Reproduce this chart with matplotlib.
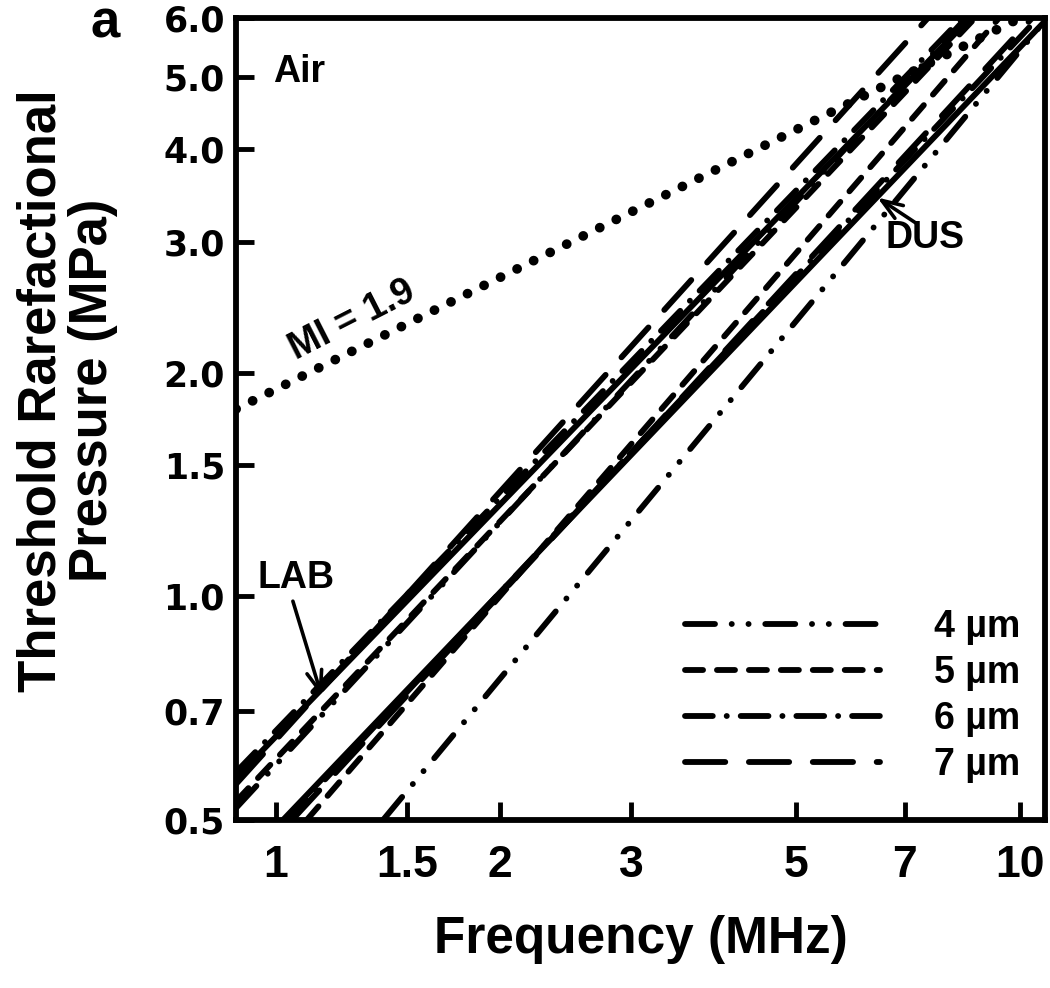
import matplotlib
matplotlib.use("Agg")
import matplotlib.pyplot as plt
from matplotlib.ticker import FixedLocator, FixedFormatter, NullLocator

plt.rcParams["lines.scale_dashes"] = False
plt.rcParams["font.family"] = ["Liberation Sans", "DejaVu Sans"]
plt.rcParams["font.weight"] = "bold"

# threshold lines as (frequency MHz, pressure MPa) end points
f_mi = [0.884, 10.0]
p_mi = [1.786, 6.0]

f_lab_solid = [0.884, 8.57]
p_lab_solid = [0.570, 6.0]
f_lab_4 = [0.884, 8.46]
p_lab_4 = [0.519, 6.0]
f_lab_5 = [0.884, 8.70]
p_lab_5 = [0.530, 6.0]
f_lab_6 = [0.884, 8.36]
p_lab_6 = [0.580, 6.0]
f_lab_7 = [0.884, 7.52]
p_lab_7 = [0.559, 6.0]

f_dus_solid = [1.022, 10.9]
p_dus_solid = [0.5, 6.0]
f_dus_4 = [1.393, 10.87]
p_dus_4 = [0.5, 6.0]
f_dus_5 = [1.10, 9.37]
p_dus_5 = [0.5, 6.0]
f_dus_6 = [1.035, 10.57]
p_dus_6 = [0.5, 6.0]
f_dus_7 = [1.051, 10.38]
p_dus_7 = [0.5, 6.0]

sizes = ["4 µm", "5 µm", "6 µm", "7 µm"]
x_ticks = [1, 1.5, 2, 3, 5, 7, 10]
x_labels = ["1", "1.5", "2", "3", "5", "7", "10"]
y_ticks = [0.5, 0.7, 1.0, 1.5, 2.0, 3.0, 4.0, 5.0, 6.0]
y_labels = ["%.1f" % v for v in y_ticks]

# dash patterns in points
dash_4 = (21.6, 12, 0.1, 12, 0.1, 12)
dash_5 = (13, 10)
dash_6 = (20, 10, 0.1, 10)
dash_7 = (29, 17)

fig = plt.figure(figsize=(10.5, 9.88), dpi=100)
ax = fig.add_axes([0.2248, 0.170, 0.9952 - 0.2248, 0.9818 - 0.170])
ax.set_xscale("log")
ax.set_yscale("log")

common = dict(color="black", lw=4.2, dash_capstyle="round", solid_capstyle="round")

ax.plot(f_mi, p_mi, color="black", lw=7, dashes=(0.1, 13.2), dash_capstyle="round")

ax.plot(f_lab_solid, p_lab_solid, **common)
h4, = ax.plot(f_lab_4, p_lab_4, dashes=dash_4, **common)
h5, = ax.plot(f_lab_5, p_lab_5, dashes=dash_5, **common)
h6, = ax.plot(f_lab_6, p_lab_6, dashes=dash_6, **common)
h7, = ax.plot(f_lab_7, p_lab_7, dashes=dash_7, **common)

ax.plot(f_dus_solid, p_dus_solid, **common)
ax.plot(f_dus_4, p_dus_4, dashes=dash_4, **common)
ax.plot(f_dus_5, p_dus_5, dashes=dash_5, **common)
ax.plot(f_dus_6, p_dus_6, dashes=dash_6, **common)
ax.plot(f_dus_7, p_dus_7, dashes=dash_7, **common)

ax.set_xlim(0.884, 10.8)
ax.set_ylim(0.5, 6.0)

ax.xaxis.set_major_locator(FixedLocator(x_ticks))
ax.xaxis.set_major_formatter(FixedFormatter(x_labels))
ax.xaxis.set_minor_locator(NullLocator())
ax.yaxis.set_major_locator(FixedLocator(y_ticks))
ax.yaxis.set_major_formatter(FixedFormatter(y_labels))
ax.yaxis.set_minor_locator(NullLocator())

for s in ax.spines.values():
    s.set_linewidth(4.2)
ax.tick_params(axis="both", direction="in", length=13, width=3.5)
ax.tick_params(axis="x", pad=18, labelsize=32)
ax.tick_params(axis="y", pad=8)
for t in ax.get_yticklabels():
    t.set_fontfamily("DejaVu Sans")
    t.set_fontsize(25)
    t.set_fontweight("bold")

ax.set_xlabel("Frequency (MHz)", fontsize=37, fontweight="bold")
ax.xaxis.set_label_coords(0.5, -0.118)
fig.text(0.0638, 0.605, "Threshold Rarefactional\nPressure (MPa)", rotation=90,
         ha="center", va="center", fontsize=38, fontweight="bold", linespacing=1.05)
fig.text(0.100, 0.976, "a", ha="center", va="center", fontsize=38, fontweight="bold")

ax.text(0.0457, 0.9327, "Air", transform=ax.transAxes, ha="left", va="center",
        fontsize=27, fontweight="bold")
ax.text(0.1434, 0.623, "MI = 1.9", transform=ax.transAxes, ha="center", va="center",
        fontsize=27, fontweight="bold", rotation=27)

arrow = dict(arrowstyle="->,head_length=1.5,head_width=0.55", lw=2.6, color="black",
             shrinkA=0, shrinkB=0)
ax.text(0.0742, 0.3017, "LAB", transform=ax.transAxes, ha="center", va="center",
        fontsize=27, fontweight="bold")
ax.annotate("", xy=(1.153, 0.733), xytext=(1.054, 0.985), arrowprops=arrow)
ax.text(0.852, 0.726, "DUS", transform=ax.transAxes, ha="center", va="center",
        fontsize=27, fontweight="bold")
ax.annotate("", xy=(6.43, 3.44), xytext=(7.24, 3.18), arrowprops=arrow)

leg = ax.legend([h4, h5, h6, h7], sizes, loc="upper left", bbox_to_anchor=(0.555, 0.263),
                frameon=False, fontsize=27, handlelength=5.2, handletextpad=1.45,
                labelspacing=0.27, borderpad=0, borderaxespad=0)
for t in leg.get_texts():
    t.set_fontweight("bold")

fig.savefig("out.png", dpi=100)
